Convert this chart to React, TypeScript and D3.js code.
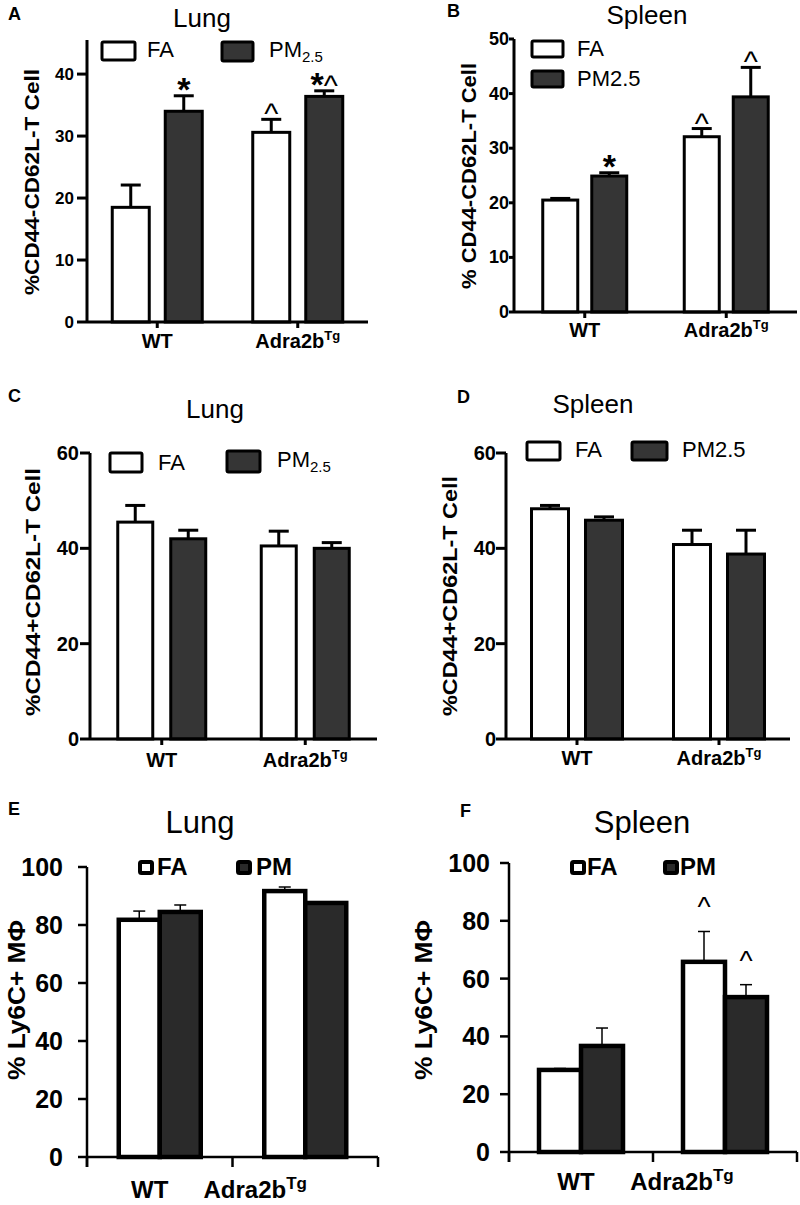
import React from "react";
import * as d3 from "d3";

const FONT = "'Liberation Sans', Arial, Helvetica, sans-serif";

const groups = ["WT", "Adra2b"];
const series = ["FA", "PM"];

// A  Lung, %CD44-CD62L- T cells
const lungNaiveFA = [18.5, 30.6];
const lungNaiveFAErr = [3.6, 2.1];
const lungNaivePM = [34.0, 36.4];
const lungNaivePMErr = [2.5, 0.9];
const lungNaiveFAMarks = ["", "^"];
const lungNaivePMMarks = ["*", "*^"];
const lungNaiveTicks = [0, 10, 20, 30, 40];

// B  Spleen, %CD44-CD62L- T cells
const spleenNaiveFA = [20.5, 32.1];
const spleenNaiveFAErr = [0.3, 1.5];
const spleenNaivePM = [24.9, 39.4];
const spleenNaivePMErr = [0.6, 5.4];
const spleenNaiveFAMarks = ["", "^"];
const spleenNaivePMMarks = ["*", "^"];
const spleenNaiveTicks = [0, 10, 20, 30, 40, 50];

// C  Lung, %CD44+CD62L- T cells
const lungMemFA = [45.5, 40.5];
const lungMemFAErr = [3.5, 3.1];
const lungMemPM = [42.0, 40.0];
const lungMemPMErr = [1.8, 1.2];
const lungMemTicks = [0, 20, 40, 60];

// D  Spleen, %CD44+CD62L- T cells
const spleenMemFA = [48.3, 40.8];
const spleenMemFAErr = [0.7, 3.0];
const spleenMemPM = [45.9, 38.8];
const spleenMemPMErr = [0.7, 5.0];
const spleenMemTicks = [0, 20, 40, 60];

// E  Lung, % Ly6C+ macrophages
const lungMacFA = [81.8, 91.7];
const lungMacFAErr = [3.0, 1.4];
const lungMacPM = [84.5, 87.6];
const lungMacPMErr = [2.4, 0.3];
const lungMacTicks = [0, 20, 40, 60, 80, 100];

// F  Spleen, % Ly6C+ macrophages
const spleenMacFA = [28.4, 65.8];
const spleenMacFAErr = [0.5, 10.5];
const spleenMacPM = [36.7, 53.6];
const spleenMacPMErr = [6.2, 4.3];
const spleenMacFAMarks = ["", "^"];
const spleenMacPMMarks = ["", "^"];
const macTicks = [0, 20, 40, 60, 80, 100];

type Box = { bx: number; by: number; bw: number; bh: number; tx: number; ty: number };

type Layout = {
  x0: number; x1: number; yTop: number; y0: number; yMax: number;
  barW: number; gap: number; barStroke: number; axisW: number;
  tickLen: number; tickPad: number; tickFont: number;
  errW: number; capW: number;
  xTickAt: "center" | "edge"; xTickLen: number;
  xLabelDy: number; xLabelFont: number; supFont: number; xLabelShift: number[];
  letter: [number, number]; title: [number, number]; titleFont: number;
  yLabel: [number, number]; yLabelFont: number; yLabelLen: number;
  legend: Box[]; legendFont: number; legendBold: boolean; legendStroke: number;
  markDy: number; starFont: number; caretFont: number; dark: string;
};

type PanelProps = {
  letter: string; title: string; yLabel: string;
  fa: number[]; faErr: number[]; pm: number[]; pmErr: number[];
  faMarks?: string[]; pmMarks?: string[];
  ticks: number[]; legendSub: boolean; legendPM: string;
  L: Layout;
};

const tCommon = {
  barStroke: 3, axisW: 3, errW: 3, capW: 20, xTickAt: "center" as const, xTickLen: 6,
  xLabelFont: 20, supFont: 13, xLabelShift: [0, 0], titleFont: 26, yLabelFont: 21,
  legendFont: 22, legendBold: false, legendStroke: 3, markDy: 5, starFont: 34, caretFont: 30,
  dark: "#353535",
};

const mCommon = {
  barStroke: 4.5, axisW: 2.5, errW: 1.5, capW: 12, xTickAt: "edge" as const, xTickLen: 10,
  xLabelFont: 24, supFont: 17, titleFont: 31, yLabelFont: 24, tickLen: 9, tickFont: 25,
  legendFont: 24, legendBold: true, legendStroke: 4, markDy: -15, starFont: 34, caretFont: 28,
  dark: "#2a2a2a",
};

function Panel({ p }: { p: PanelProps }) {
  const L = p.L;
  const x = d3.scaleBand().domain(groups).range([L.x0, L.x1]).paddingInner(0).paddingOuter(0);
  const half = L.barW + L.gap / 2;
  const inner = d3.scaleBand().domain(series).range([-half, half]).paddingInner(L.gap / (L.barW + L.gap));
  const y = d3.scaleLinear().domain([0, L.yMax]).range([L.y0, L.yTop]);

  const rows = groups.flatMap((g, i) => [
    { g, s: "FA", v: p.fa[i], e: p.faErr[i], m: p.faMarks ? p.faMarks[i] : "" },
    { g, s: "PM", v: p.pm[i], e: p.pmErr[i], m: p.pmMarks ? p.pmMarks[i] : "" },
  ]);

  const xTicks =
    L.xTickAt === "center"
      ? groups.map((g) => (x(g) as number) + x.bandwidth() / 2)
      : [L.x0, ...groups.map((g) => (x(g) as number) + x.bandwidth())];

  return (
    <g fontFamily={FONT}>
      <text x={L.letter[0]} y={L.letter[1]} fontSize={18} fontWeight="bold">{p.letter}</text>
      <text x={L.title[0]} y={L.title[1]} fontSize={L.titleFont} textAnchor="middle">{p.title}</text>
      <text
        transform={`translate(${L.yLabel[0]},${L.yLabel[1]}) rotate(-90)`}
        fontSize={L.yLabelFont} fontWeight="bold" textAnchor="middle" dominantBaseline="central"
        textLength={L.yLabelLen} lengthAdjust="spacingAndGlyphs"
      >{p.yLabel}</text>

      {/* bars */}
      {rows.map((r, i) => {
        const cx = (x(r.g) as number) + x.bandwidth() / 2;
        const bx = cx + (inner(r.s) as number);
        const mid = bx + inner.bandwidth() / 2;
        const top = y(r.v);
        const et = y(r.v + r.e);
        return (
          <g key={i}>
            <line x1={mid} x2={mid} y1={top} y2={et} stroke="#000" strokeWidth={L.errW} />
            <line x1={mid - L.capW / 2} x2={mid + L.capW / 2} y1={et} y2={et} stroke="#000" strokeWidth={L.errW} />
            <rect
              x={bx} y={top} width={inner.bandwidth()} height={L.y0 - top}
              fill={r.s === "FA" ? "#fff" : L.dark} stroke="#000" strokeWidth={L.barStroke}
            />
            {r.m && (
              <text x={mid} y={et + L.markDy} textAnchor="middle">
                {r.m.split("").map((c, k) => (
                  <tspan key={k} fontSize={c === "*" ? L.starFont : L.caretFont} fontWeight={c === "*" ? "bold" : "normal"}>{c}</tspan>
                ))}
              </text>
            )}
          </g>
        );
      })}

      {/* y axis */}
      <line x1={L.x0} x2={L.x0} y1={L.yTop} y2={L.y0 + (L.xTickAt === "edge" ? L.xTickLen : 0)} stroke="#000" strokeWidth={L.axisW} />
      {p.ticks.map((t) => (
        <g key={t}>
          <line x1={L.x0 - L.tickLen} x2={L.x0} y1={y(t)} y2={y(t)} stroke="#000" strokeWidth={L.axisW} />
          <text x={L.x0 - L.tickPad} y={y(t)} fontSize={L.tickFont} fontWeight="bold" textAnchor="end" dominantBaseline="central">{t}</text>
        </g>
      ))}

      {/* x axis */}
      <line x1={L.x0} x2={L.x1} y1={L.y0} y2={L.y0} stroke="#000" strokeWidth={L.axisW} />
      {xTicks.map((t, i) => (
        <line key={i} x1={t} x2={t} y1={L.y0} y2={L.y0 + L.xTickLen} stroke="#000" strokeWidth={L.axisW} />
      ))}
      {groups.map((g, i) => (
        <text
          key={g} x={(x(g) as number) + x.bandwidth() / 2 + L.xLabelShift[i]} y={L.y0 + L.xLabelDy}
          fontSize={L.xLabelFont} fontWeight="bold" textAnchor="middle"
        >
          {g}
          {g === "Adra2b" && <tspan fontSize={L.supFont} dy={-L.xLabelFont * 0.38}>Tg</tspan>}
        </text>
      ))}

      {/* legend */}
      {L.legend.map((b, i) => (
        <g key={i}>
          <rect x={b.bx} y={b.by} width={b.bw} height={b.bh} rx={1.5}
            fill={i === 0 ? "#fff" : L.dark} stroke="#000" strokeWidth={L.legendStroke} />
          <text x={b.tx} y={b.ty} fontSize={L.legendFont} fontWeight={L.legendBold ? "bold" : "normal"}>
            {i === 0 ? "FA" : p.legendPM}
            {i === 1 && p.legendSub && <tspan fontSize={15} dy={5}>2.5</tspan>}
          </text>
        </g>
      ))}
    </g>
  );
}

const panels: PanelProps[] = [
  {
    letter: "A", title: "Lung", yLabel: "%CD44-CD62L-T Cell",
    fa: lungNaiveFA, faErr: lungNaiveFAErr, pm: lungNaivePM, pmErr: lungNaivePMErr,
    faMarks: lungNaiveFAMarks, pmMarks: lungNaivePMMarks, ticks: lungNaiveTicks,
    legendSub: true, legendPM: "PM",
    L: {
      ...tCommon, x0: 87, x1: 368, yTop: 40, y0: 322, yMax: 45.5, barW: 37, gap: 16,
      tickLen: 10, tickPad: 13, tickFont: 17, xLabelDy: 26,
      letter: [8, 20], title: [202, 27], yLabel: [31, 182], yLabelLen: 226,
      legend: [
        { bx: 102, by: 42, bw: 33, bh: 18, tx: 147, ty: 57 },
        { bx: 222, by: 42, bw: 31, bh: 19, tx: 269, ty: 57 },
      ],
    },
  },
  {
    letter: "B", title: "Spleen", yLabel: "% CD44-CD62L-T Cell",
    fa: spleenNaiveFA, faErr: spleenNaiveFAErr, pm: spleenNaivePM, pmErr: spleenNaivePMErr,
    faMarks: spleenNaiveFAMarks, pmMarks: spleenNaivePMMarks, ticks: spleenNaiveTicks,
    legendSub: false, legendPM: "PM2.5",
    L: {
      ...tCommon, x0: 514, x1: 797, yTop: 39, y0: 312, yMax: 50, barW: 35, gap: 14,
      tickLen: 5, tickPad: 5, tickFont: 18, xLabelDy: 25,
      letter: [447, 17], title: [647, 24], yLabel: [468, 176], yLabelLen: 226,
      legend: [
        { bx: 532, by: 41, bw: 31, bh: 16, tx: 577, ty: 56 },
        { bx: 532, by: 71, bw: 31, bh: 16, tx: 577, ty: 86 },
      ],
    },
  },
  {
    letter: "C", title: "Lung", yLabel: "%CD44+CD62L-T Cell",
    fa: lungMemFA, faErr: lungMemFAErr, pm: lungMemPM, pmErr: lungMemPMErr,
    ticks: lungMemTicks, legendSub: true, legendPM: "PM",
    L: {
      ...tCommon, x0: 90, x1: 377, yTop: 453, y0: 739, yMax: 60, barW: 35, gap: 18,
      tickLen: 10, tickPad: 11, tickFont: 20, xLabelDy: 28,
      letter: [8, 402], title: [215, 418], yLabel: [32, 592], yLabelLen: 248,
      legend: [
        { bx: 110, by: 453, bw: 32, bh: 19, tx: 158, ty: 470 },
        { bx: 227, by: 451, bw: 33, bh: 21, tx: 277, ty: 467 },
      ],
    },
  },
  {
    letter: "D", title: "Spleen", yLabel: "%CD44+CD62L-T Cell",
    fa: spleenMemFA, faErr: spleenMemFAErr, pm: spleenMemPM, pmErr: spleenMemPMErr,
    ticks: spleenMemTicks, legendSub: false, legendPM: "PM2.5",
    L: {
      ...tCommon, x0: 506, x1: 790, yTop: 453, y0: 739, yMax: 60, barW: 37, gap: 17,
      tickLen: 10, tickPad: 10, tickFont: 20, xLabelDy: 26,
      letter: [457, 403], title: [593, 413], yLabel: [449, 596], yLabelLen: 240,
      legend: [
        { bx: 527, by: 442, bw: 33, bh: 18, tx: 575, ty: 457 },
        { bx: 632, by: 442, bw: 35, bh: 18, tx: 682, ty: 457 },
      ],
    },
  },
  {
    letter: "E", title: "Lung", yLabel: "% Ly6C+ MΦ",
    fa: lungMacFA, faErr: lungMacFAErr, pm: lungMacPM, pmErr: lungMacPMErr,
    ticks: lungMacTicks, legendSub: false, legendPM: "PM",
    L: {
      ...mCommon, x0: 87, x1: 378, yTop: 867, y0: 1157, yMax: 100, barW: 41, gap: 0,
      tickPad: 24, xLabelDy: 41, xLabelShift: [-10, -50],
      letter: [8, 815], title: [200, 833], yLabel: [16, 1000], yLabelLen: 160,
      legend: [
        { bx: 140, by: 862, bw: 12, bh: 11, tx: 157, ty: 875 },
        { bx: 238, by: 862, bw: 12, bh: 11, tx: 256, ty: 875 },
      ],
    },
  },
  {
    letter: "F", title: "Spleen", yLabel: "% Ly6C+ MΦ",
    fa: spleenMacFA, faErr: spleenMacFAErr, pm: spleenMacPM, pmErr: spleenMacPMErr,
    faMarks: spleenMacFAMarks, pmMarks: spleenMacPMMarks,
    ticks: macTicks, legendSub: false, legendPM: "PM",
    L: {
      ...mCommon, x0: 509, x1: 797, yTop: 863, y0: 1152, yMax: 100, barW: 42, gap: 0,
      tickPad: 19, xLabelDy: 38, xLabelShift: [-5, -43],
      letter: [460, 817], title: [642, 833], yLabel: [423, 1000], yLabelLen: 160,
      legend: [
        { bx: 572, by: 862, bw: 12, bh: 11, tx: 587, ty: 875 },
        { bx: 665, by: 862, bw: 12, bh: 11, tx: 680, ty: 875 },
      ],
    },
  },
];

export default function App() {
  return (
    <svg width={800} height={1205} style={{ position: "absolute", left: 0, top: 0, background: "#fff" }}>
      <rect width={800} height={1205} fill="#fff" />
      {panels.map((p) => (
        <Panel key={p.letter} p={p} />
      ))}
    </svg>
  );
}
